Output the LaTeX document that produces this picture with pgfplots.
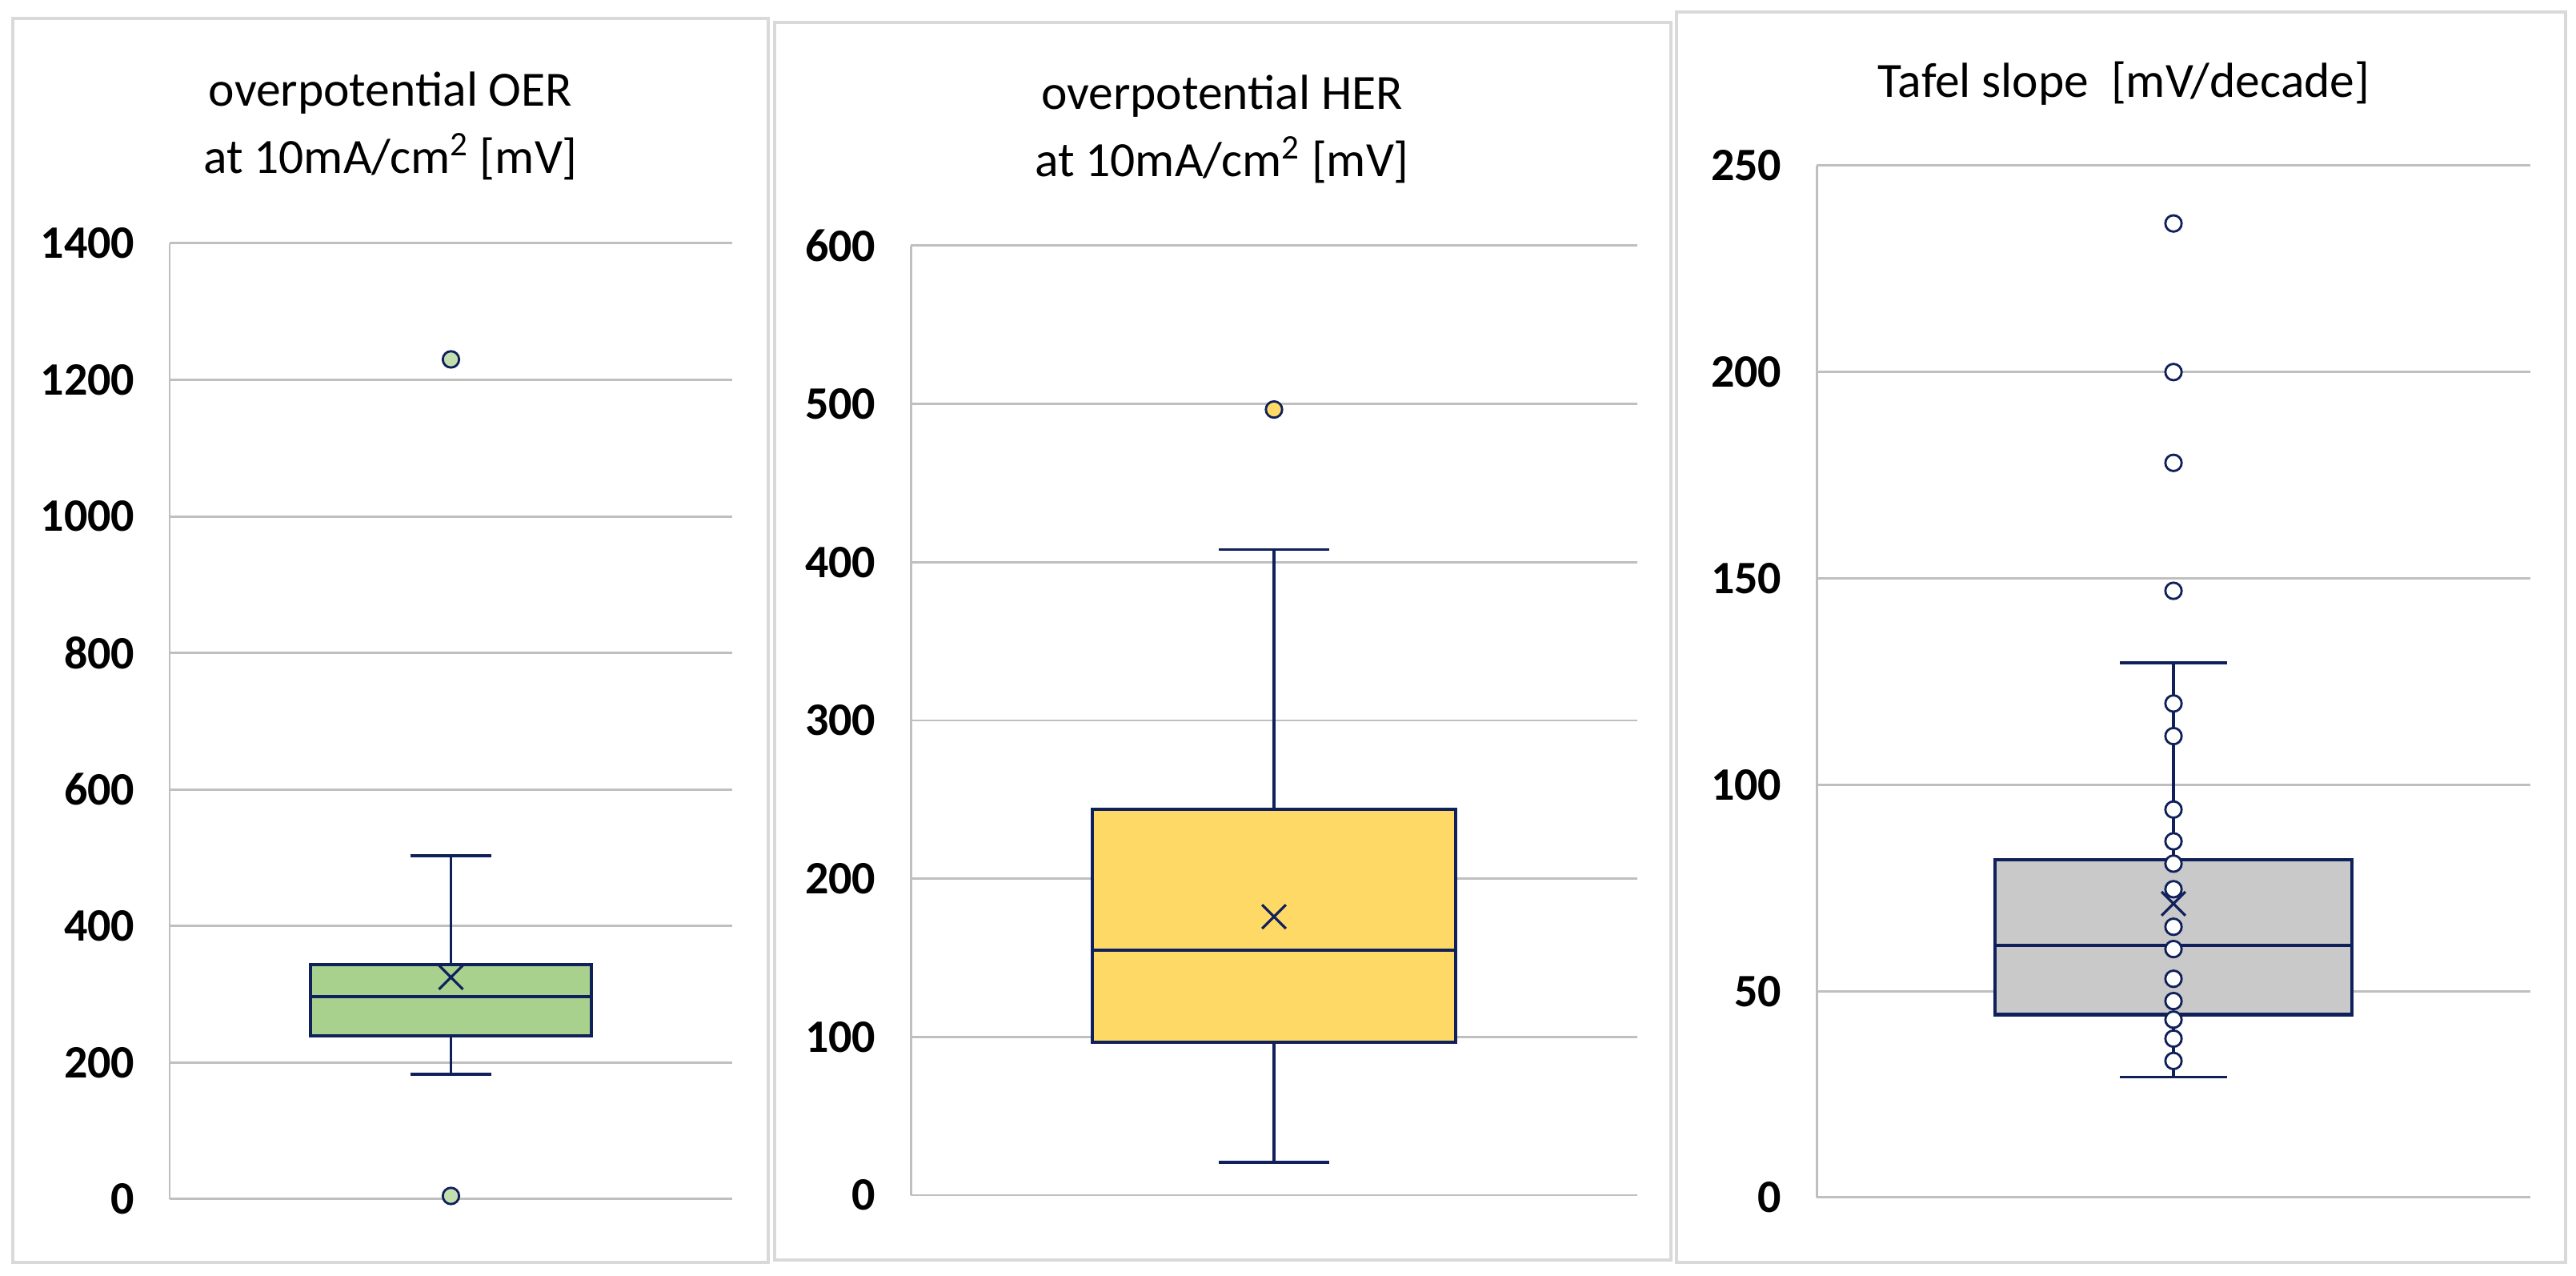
\documentclass[border=0pt]{standalone}
\usepackage{fontspec}
\setmainfont{Carlito}
\usepackage{pgfplots}
\pgfplotsset{compat=1.18}
\usepgfplotslibrary{statistics}

\definecolor{navy}{HTML}{10205A}
\definecolor{gridgray}{HTML}{BFBFBF}
\definecolor{framegray}{HTML}{D9D9D9}
\definecolor{boxgreen}{HTML}{A9D18E}
\definecolor{boxyellow}{HTML}{FFD966}
\definecolor{boxgray}{HTML}{C9C9C9}

\newcommand{\titlefont}{\fontsize{17.5}{21}\selectfont}

\pgfplotsset{
  panel/.style={
    scale only axis, anchor=south west, clip=false,
    xmin=0, xmax=2, ymin=0,
    boxplot/draw direction=y,
    axis x line=none, axis y line*=left,
    axis line style={-, draw=gridgray, line width=0.85pt},
    ymajorgrids, grid style={draw=gridgray, line width=0.85pt},
    major tick length=0pt,
    yticklabel style={font=\fontsize{16.5}{18}\selectfont\bfseries,
      anchor=east, inner sep=0pt, xshift=-0.43cm},
    /pgf/number format/assume math mode=true,
    /pgf/number format/1000 sep={},
  },
  bxstyle/.style={draw=navy, line width=1pt, fill=#1, mark=none,
    boxplot/every box/.style={line width=1.2pt},
    boxplot/every median/.style={line width=1.2pt}},
  outl/.style={only marks, mark=*, mark size=2.9pt,
    mark options={draw=navy, fill=#1, line width=0.8pt}},
  meanmark/.style={only marks, mark=x, mark size=6pt,
    mark options={draw=navy, line width=0.9pt}},
}

\begin{document}
\begin{tikzpicture}
\path[use as bounding box] (0,0) rectangle (32.19,15.94);

% panel frames
\draw[framegray, line width=0.9pt] (0.16,0.17) rectangle (9.60,15.71);
\draw[framegray, line width=0.9pt] (9.68,0.20) rectangle (20.88,15.66);
\draw[framegray, line width=0.9pt] (20.95,0.17) rectangle (32.06,15.79);

% titles
\node[anchor=base, font=\titlefont] at (4.88,14.61) {overpotential OER};
\node[anchor=base, font=\titlefont] at (4.88,13.77) {at 10mA/cm\textsuperscript{2} [mV]};
\node[anchor=base, font=\titlefont] at (15.27,14.57) {overpotential HER};
\node[anchor=base, font=\titlefont] at (15.27,13.73) {at 10mA/cm\textsuperscript{2} [mV]};
\node[anchor=base, font=\titlefont] at (26.54,14.72) {Tafel slope\ \ [mV/decade]};

% OER overpotential
\begin{axis}[panel, at={(2.12cm,0.96cm)}, width=7.03cm, height=11.94cm,
  ymax=1400, ytick={0,200,...,1400}]
  \addplot[bxstyle=boxgreen,
    boxplot prepared={draw position=1, box extend=1, whisker extend=0.29,
      median=297, upper quartile=343.5, lower quartile=239,
      upper whisker=503, lower whisker=183}]
    coordinates {};
  \addplot[outl=boxgreen!70!white] coordinates {(1,1230) (1,4.7)};
  \addplot[meanmark] coordinates {(1,324.8)};
\end{axis}

% HER overpotential
\begin{axis}[panel, at={(11.38cm,1.01cm)}, width=9.08cm, height=11.86cm,
  ymax=600, ytick={0,100,...,600}]
  \addplot[bxstyle=boxyellow,
    boxplot prepared={draw position=1, box extend=1, whisker extend=0.306,
      median=154.8, upper quartile=243.7, lower quartile=96.6,
      upper whisker=407.9, lower whisker=20.8}]
    coordinates {};
  \addplot[outl=boxyellow] coordinates {(1,496.5)};
  \addplot[meanmark] coordinates {(1,176)};
\end{axis}

% Tafel slope
\begin{axis}[panel, at={(22.70cm,0.98cm)}, width=8.92cm, height=12.89cm,
  ymax=250, ytick={0,50,...,250}]
  \addplot[bxstyle=boxgray,
    boxplot prepared={draw position=1, box extend=1, whisker extend=0.3,
      median=61.1, upper quartile=81.8, lower quartile=44.3,
      upper whisker=129.6, lower whisker=29.2}]
    coordinates {};
  \addplot[outl=white] coordinates {(1,236) (1,200) (1,178) (1,147)};
  \addplot[outl=white] coordinates {(1,119.7) (1,111.8) (1,94.0) (1,86.3)
    (1,80.9) (1,74.7) (1,65.6) (1,60.2) (1,53.0) (1,47.6) (1,43.1)
    (1,38.5) (1,33.1)};
  \addplot[meanmark] coordinates {(1,71.2)};
\end{axis}
\end{tikzpicture}
\end{document}
